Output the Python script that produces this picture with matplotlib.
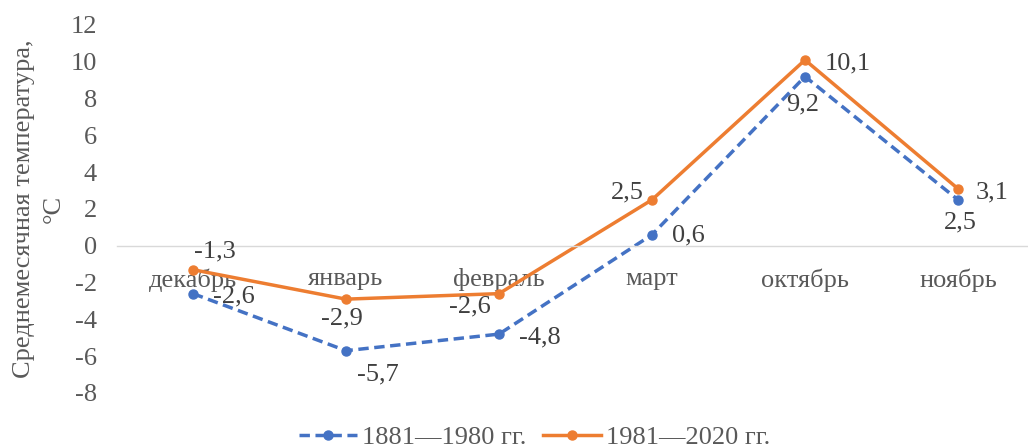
import matplotlib.pyplot as plt

plt.rcParams['font.family'] = ['Liberation Serif', 'DejaVu Serif']
plt.rcParams['axes.unicode_minus'] = False

months = ['декабрь', 'январь', 'февраль', 'март', 'октябрь', 'ноябрь']
t_old = [-2.6, -5.7, -4.8, 0.6, 9.2, 2.5]
t_new = [-1.3, -2.9, -2.6, 2.5, 10.1, 3.1]
name_old = '1881—1980 гг.'
name_new = '1981—2020 гг.'

# data label placement: (dx px, dy px, ha)
pos_old = [(20, -3, 'left'), (32, -24, 'center'), (20, -3, 'left'),
           (20, -1, 'left'), (-2, -28, 'center'), (2, -23, 'center')]
pos_new = [(22, 18, 'center'), (-4, -19, 'center'), (-8, -13, 'right'),
           (-8, 7, 'right'), (20, -3, 'left'), (18, -4, 'left')]

gray = '#595959'
blue = '#4472C4'
orange = '#ED7D31'
fs = 19

fig = plt.figure(figsize=(10.28, 4.48), dpi=100)
ax = fig.add_axes([116.5 / 1028, 0.1228, 918 / 1028, 0.8214])

x = list(range(len(months)))
ax.plot(x, t_old, color=blue, lw=2.5, ls=(0, (3, 1.6)), marker='o', ms=6.5, label=name_old)
ax.plot(x, t_new, color=orange, lw=2.5, marker='o', ms=6.5, label=name_new)


def put_labels(vals, pos):
    for i, v in enumerate(vals):
        dx, dy, ha = pos[i]
        ax.annotate(f'{v:.1f}'.replace('.', ','), (i, v), xytext=(dx * 0.72, dy * 0.72),
                    textcoords='offset points', ha=ha, va='center', fontsize=fs, color='#404040')


put_labels(t_old, pos_old)
put_labels(t_new, pos_new)

ax.set_xlim(-0.5, 5.5)
ax.set_ylim(-8, 12)
ax.set_yticks(range(-8, 13, 2))
ax.set_xticks(x)
ax.set_xticklabels(months)
for s in ['top', 'right', 'left']:
    ax.spines[s].set_visible(False)
ax.spines['bottom'].set_position(('data', 0))
ax.spines['bottom'].set_color('#D9D9D9')
ax.spines['bottom'].set_linewidth(1)
ax.tick_params(axis='both', length=0, labelsize=fs, labelcolor=gray)
ax.tick_params(axis='x', pad=16)
ax.tick_params(axis='y', pad=14)

ax.set_ylabel('Среднемесячная температура,\n°C', fontsize=fs, color=gray, labelpad=4,
              linespacing=1.45)

fig.legend(loc='lower center', bbox_to_anchor=(0.52, -0.055), ncol=2, frameon=False,
           fontsize=fs, labelcolor=gray, handlelength=2.2, columnspacing=0.6, handletextpad=0.2)

fig.savefig('out.png', dpi=100)
